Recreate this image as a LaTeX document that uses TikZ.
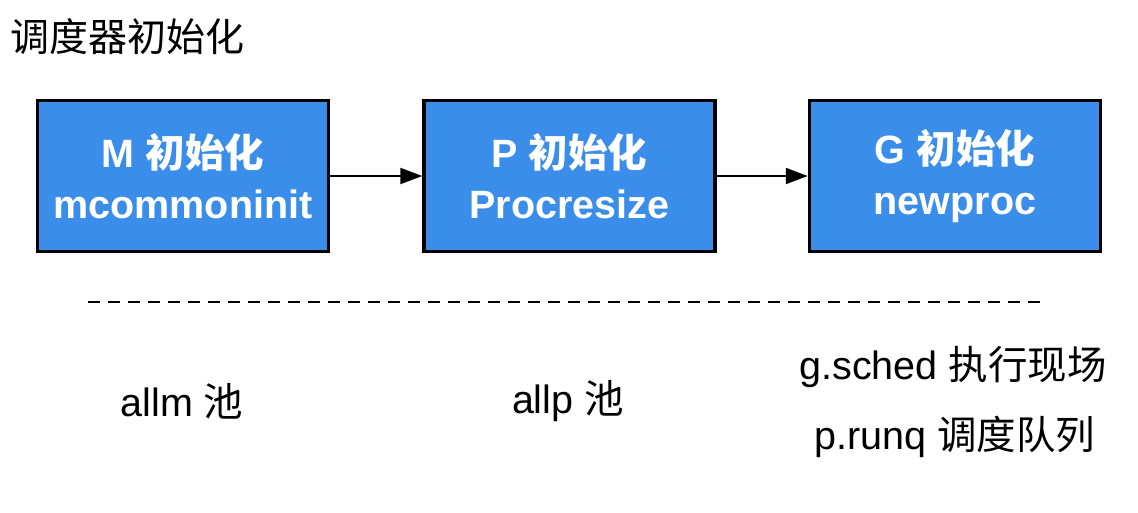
\documentclass[tikz,border=0pt]{standalone}
\usepackage{fontspec}
\setmainfont{Liberation Sans}
\newfontfamily\cjk{Noto Sans CJK SC}
\newfontfamily\cjkb{Noto Sans CJK SC Bold}
\usetikzlibrary{arrows.meta}
\definecolor{boxblue}{RGB}{58,142,234}
\begin{document}
\begin{tikzpicture}[x=1pt,y=-1pt,
  procbox/.style={draw=black,line width=3.5pt,fill=boxblue,minimum width=291pt,minimum height=151pt,
    text=white,align=center,font=\fontsize{39.5}{51}\selectfont\bfseries,inner sep=0pt},
  flow/.style={line width=2pt,-{Triangle[length=22pt,width=16pt]}},
  label/.style={font=\fontsize{39.5}{44}\selectfont,inner sep=0pt,anchor=center}]
\useasboundingbox (0,0) rectangle (1138,512);
\fill[white] (0,0) rectangle (1138,512);
\node[font=\fontsize{39}{42}\selectfont,anchor=west,inner sep=0pt] (title) at (10,37) {\cjk 调度器初始化};
\node[procbox] (m) at (183,176) {M {\cjkb 初始化}\\mcommoninit};
\node[procbox] (p) at (569.5,176) {P {\cjkb 初始化}\\Procresize};
\node[procbox] (g) at (955,176) {G {\cjkb 初始化}\\newproc};
\draw[flow] (m) -- (p);
\draw[flow] (p) -- (g);
\coordinate (dl) at (88,302);
\coordinate (dr) at (1045,302);
\draw[line width=2.8pt,dash pattern=on 12pt off 8pt] (dl) -- (dr);
\node[label] (allm) at (182,401) {allm {\cjk 池}};
\node[label] (allp) at (568,401) {allp {\cjk 池}};
\node[label] (gs) at (953,367) {g.sched {\cjk 执行现场}};
\node[label] (pr) at (955,437) {p.runq {\cjk 调度队列}};
\end{tikzpicture}
\end{document}
